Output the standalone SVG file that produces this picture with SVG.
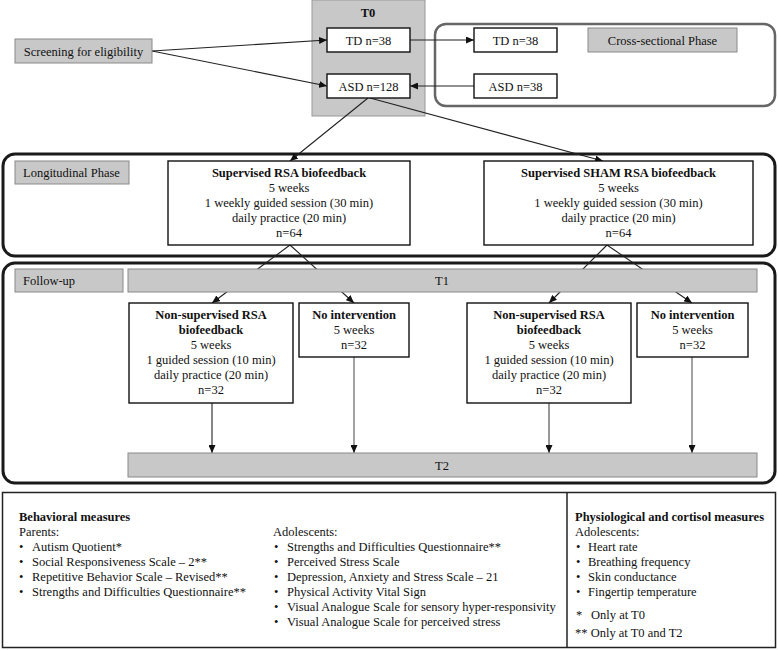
<svg xmlns="http://www.w3.org/2000/svg" width="778" height="650" viewBox="0 0 778 650">
<defs>
<marker id="arr" markerUnits="userSpaceOnUse" markerWidth="8" markerHeight="7" refX="8" refY="3.5" orient="auto">
<path d="M0,0 L8,3.5 L0,7 z" fill="#111"/>
</marker>
<style>
text{font-family:"Liberation Serif","Times New Roman",serif;font-size:12.5px;fill:#111}
.c{text-anchor:middle}
.b{font-weight:bold}
.box{fill:#fff;stroke:#111;stroke-width:1.4}
.gray{fill:#c8c8c8;stroke:#8a8a8a;stroke-width:1}
.phase{fill:none;stroke:#1a1a1a;stroke-width:3}
.conn line{stroke:#222;stroke-width:1.1;marker-end:url(#arr)}
</style>
</defs>
<rect width="778" height="650" fill="#fff"/>

<g id="containers">
<rect id="t0-area" x="312" y="0" width="113" height="116" fill="#c8c8c8" stroke="#999" stroke-width="1"/>
<rect id="cross-sectional" x="435" y="24" width="340" height="82" rx="11" fill="none" stroke="#666" stroke-width="2.5"/>
<rect id="longitudinal" x="3" y="154" width="772" height="102" rx="12" class="phase"/>
<rect id="follow-up" x="3" y="263" width="772" height="220" rx="12" class="phase"/>
</g>

<g id="connectors" class="conn">
<line x1="152" y1="51" x2="327" y2="40"/>
<line x1="152" y1="51" x2="327" y2="86"/>
<line x1="410" y1="40" x2="474" y2="40"/>
<line x1="474" y1="86" x2="410" y2="86"/>
<line x1="368" y1="98" x2="290" y2="161"/>
<line x1="370" y1="98" x2="603" y2="161"/>
<line x1="290" y1="245" x2="212" y2="303"/>
<line x1="290" y1="245" x2="354" y2="303"/>
<line x1="607" y1="245" x2="549" y2="303"/>
<line x1="607" y1="245" x2="692" y2="303"/>
<line x1="212" y1="403" x2="212" y2="453"/>
<line x1="354" y1="357" x2="354" y2="453" style="stroke:#555"/>
<line x1="549" y1="403" x2="549" y2="453" style="stroke:#444"/>
<line x1="692" y1="357" x2="692" y2="453" style="stroke:#555"/>
</g>

<g id="t0-label"><text x="368" y="17" class="c b">T0</text></g>

<g id="screening">
<rect x="15" y="39" width="137" height="24" class="gray"/>
<text x="83.5" y="55.5" class="c">Screening for eligibility</text>
</g>
<g id="td-t0">
<rect x="327" y="28" width="83" height="24" class="box"/>
<text x="368.5" y="44.5" class="c">TD n=38</text>
</g>
<g id="asd-t0">
<rect x="327" y="74" width="83" height="24" class="box"/>
<text x="368.5" y="90.5" class="c">ASD n=128</text>
</g>
<g id="td-cross">
<rect x="474" y="28" width="83" height="24" class="box"/>
<text x="515.5" y="44.5" class="c">TD n=38</text>
</g>
<g id="asd-cross">
<rect x="474" y="74" width="83" height="24" class="box"/>
<text x="515.5" y="90.5" class="c">ASD n=38</text>
</g>
<g id="cross-label">
<rect x="588" y="28" width="149" height="24" class="gray"/>
<text x="662.5" y="44.5" class="c">Cross-sectional Phase</text>
</g>

<g id="longitudinal-label">
<rect x="15" y="161" width="114" height="23" class="gray"/>
<text x="23" y="177">Longitudinal Phase</text>
</g>
<g id="supervised-rsa">
<rect x="168" y="161" width="242" height="84" class="box"/>
<text x="289" y="177" class="c b">Supervised RSA biofeedback</text>
<text x="289" y="192" class="c">5 weeks</text>
<text x="289" y="207" class="c">1 weekly guided session (30 min)</text>
<text x="289" y="222" class="c">daily practice (20 min)</text>
<text x="289" y="237" class="c">n=64</text>
</g>
<g id="supervised-sham">
<rect x="484" y="161" width="269" height="84" class="box"/>
<text x="618.5" y="177" class="c b">Supervised SHAM RSA biofeedback</text>
<text x="618.5" y="192" class="c">5 weeks</text>
<text x="618.5" y="207" class="c">1 weekly guided session (30 min)</text>
<text x="618.5" y="222" class="c">daily practice (20 min)</text>
<text x="618.5" y="237" class="c">n=64</text>
</g>

<g id="follow-up-label">
<rect x="15" y="269" width="108" height="23" class="gray"/>
<text x="23" y="285">Follow-up</text>
</g>
<g id="t1">
<rect x="128" y="269" width="629" height="23" class="gray"/>
<text x="442" y="285" class="c">T1</text>
</g>
<g id="nonsup-left">
<rect x="129" y="303" width="164" height="100" class="box"/>
<text x="211" y="319" class="c b">Non-supervised RSA</text>
<text x="211" y="334" class="c b">biofeedback</text>
<text x="211" y="349" class="c">5 weeks</text>
<text x="211" y="364" class="c">1 guided session (10 min)</text>
<text x="211" y="379" class="c">daily practice (20 min)</text>
<text x="211" y="394" class="c">n=32</text>
</g>
<g id="noint-left">
<rect x="299" y="303" width="110" height="54" class="box"/>
<text x="354" y="319" class="c b">No intervention</text>
<text x="354" y="334" class="c">5 weeks</text>
<text x="354" y="349" class="c">n=32</text>
</g>
<g id="nonsup-right">
<rect x="467" y="303" width="164" height="100" class="box"/>
<text x="549" y="319" class="c b">Non-supervised RSA</text>
<text x="549" y="334" class="c b">biofeedback</text>
<text x="549" y="349" class="c">5 weeks</text>
<text x="549" y="364" class="c">1 guided session (10 min)</text>
<text x="549" y="379" class="c">daily practice (20 min)</text>
<text x="549" y="394" class="c">n=32</text>
</g>
<g id="noint-right">
<rect x="637" y="303" width="111" height="54" class="box"/>
<text x="692.5" y="319" class="c b">No intervention</text>
<text x="692.5" y="334" class="c">5 weeks</text>
<text x="692.5" y="349" class="c">n=32</text>
</g>
<g id="t2">
<rect x="128" y="453" width="629" height="24" class="gray"/>
<text x="442" y="469.5" class="c">T2</text>
</g>

<g id="measures">
<rect x="2.5" y="492.5" width="773" height="155" fill="#fff" stroke="#222" stroke-width="1.5"/>
<line x1="567" y1="492.5" x2="567" y2="647.5" stroke="#222" stroke-width="1.5"/>
<text x="19" y="521" class="b">Behavioral measures</text>
<text x="19" y="536">Parents:</text>
<text x="19" y="551">•</text><text x="32" y="551">Autism Quotient*</text>
<text x="19" y="566">•</text><text x="32" y="566">Social Responsiveness Scale – 2**</text>
<text x="19" y="581">•</text><text x="32" y="581">Repetitive Behavior Scale – Revised**</text>
<text x="19" y="596">•</text><text x="32" y="596">Strengths and Difficulties Questionnaire**</text>
<text x="273" y="536">Adolescents:</text>
<text x="274" y="551">•</text><text x="287" y="551">Strengths and Difficulties Questionnaire**</text>
<text x="274" y="566">•</text><text x="287" y="566">Perceived Stress Scale</text>
<text x="274" y="581">•</text><text x="287" y="581">Depression, Anxiety and Stress Scale – 21</text>
<text x="274" y="596">•</text><text x="287" y="596">Physical Activity Vital Sign</text>
<text x="274" y="611">•</text><text x="287" y="611">Visual Analogue Scale for sensory hyper-responsivity</text>
<text x="274" y="626">•</text><text x="287" y="626">Visual Analogue Scale for perceived stress</text>
<text x="575" y="521" class="b">Physiological and cortisol measures</text>
<text x="575" y="536">Adolescents:</text>
<text x="576" y="551">•</text><text x="588" y="551">Heart rate</text>
<text x="576" y="566">•</text><text x="588" y="566">Breathing frequency</text>
<text x="576" y="581">•</text><text x="588" y="581">Skin conductance</text>
<text x="576" y="596">•</text><text x="588" y="596">Fingertip temperature</text>
<text x="576" y="619">*</text><text x="591" y="619">Only at T0</text>
<text x="575" y="637">** Only at T0 and T2</text>
</g>
</svg>
